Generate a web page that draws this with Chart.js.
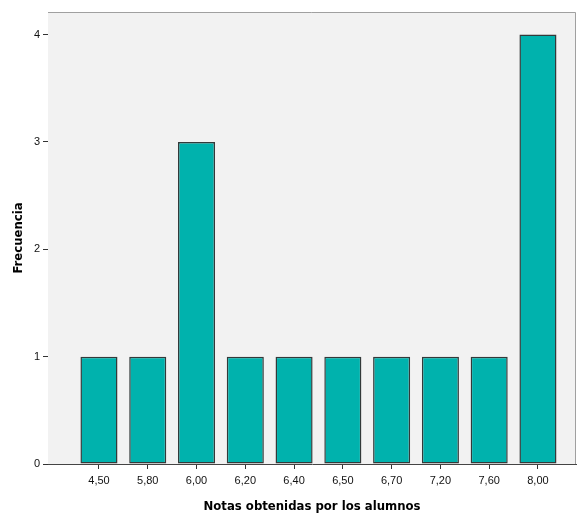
<!DOCTYPE html>
<html>
<head>
<meta charset="utf-8">
<script src="https://cdn.jsdelivr.net/npm/chart.js@4.4.1/dist/chart.umd.min.js"></script>
<style>
html,body{margin:0;padding:0;background:#fff;}
#wrap{width:577px;height:515px;}
</style>
</head>
<body>
<div id="wrap"><canvas id="c" width="577" height="515"></canvas></div>
<script>
const categories = ['4,50','5,80','6,00','6,20','6,40','6,50','6,70','7,20','7,60','8,00'];
const frequencies = [1,1,3,1,1,1,1,1,1,4];
const yTicks = [0,1,2,3,4];
const xTitle = 'Notas obtenidas por los alumnos';
const yTitle = 'Frecuencia';

const plotBg = {
  id: 'plotBg',
  beforeDatasetsDraw(chart) {
    const {ctx, chartArea: a} = chart;
    ctx.save();
    ctx.fillStyle = '#f2f2f2';
    ctx.fillRect(a.left, a.top, a.right - a.left, a.bottom - a.top);
    ctx.restore();
  },
  afterDatasetsDraw(chart) {
    const {ctx, chartArea: a} = chart;
    ctx.save();
    ctx.strokeStyle = '#a0a0a0';
    ctx.lineWidth = 1;
    ctx.beginPath();
    ctx.moveTo(a.left, a.top + 0.5);
    ctx.lineTo(a.right - 0.5, a.top + 0.5);
    ctx.lineTo(a.right - 0.5, a.bottom);
    ctx.stroke();
    ctx.restore();
  }
};

new Chart(document.getElementById('c'), {
  type: 'bar',
  data: {
    datasets: [{
      data: frequencies.map((v, i) => ({x: i, y: v})),
      backgroundColor: '#00b2ad',
      borderColor: '#333a3a',
      borderWidth: 1.5,
      borderSkipped: false,
      barPercentage: 0.76,
      categoryPercentage: 1
    }]
  },
  plugins: [plotBg],
  options: {
    responsive: false,
    animation: false,
    devicePixelRatio: 1,
    layout: {padding: {top: 12, right: 1, left: 0, bottom: 0}},
    plugins: {legend: {display: false}, tooltip: {enabled: false}},
    scales: {
      x: {
        type: 'linear',
        offset: false,
        min: -1.045,
        max: 9.78,
        afterBuildTicks(s) { s.ticks = categories.map((c, i) => ({value: i})); },
        afterFit(s) { s.height = 51; },
        ticks: {
          autoSkip: false,
          maxRotation: 0,
          padding: 5,
          color: '#111',
          font: {family: 'Liberation Sans', size: 11},
          callback: (v) => categories[v]
        },
        grid: {display: true, offset: false, drawOnChartArea: false, drawTicks: true, tickLength: 5, color: '#333'},
        border: {display: true, color: '#444', width: 1},
        title: {
          display: true, text: xTitle, color: '#000',
          font: {family: 'DejaVu Sans Condensed, DejaVu Sans', size: 13, weight: 'bold'},
          padding: {top: 0, bottom: 1}
        }
      },
      y: {
        min: 0,
        max: 4.21,
        afterBuildTicks(s) { s.ticks = yTicks.map(v => ({value: v})); },
        afterFit(s) { s.width = 48; },
        ticks: {
          padding: 3,
          color: '#111',
          font: {family: 'Liberation Sans', size: 11}
        },
        grid: {display: true, drawOnChartArea: false, drawTicks: true, tickLength: 5, color: '#333'},
        border: {display: true, color: '#444', width: 1},
        title: {
          display: true, text: yTitle, color: '#000',
          font: {family: 'DejaVu Sans Condensed, DejaVu Sans', size: 13, weight: 'bold'},
          padding: {top: 11, bottom: 0}
        }
      }
    }
  }
});
</script>
</body>
</html>
